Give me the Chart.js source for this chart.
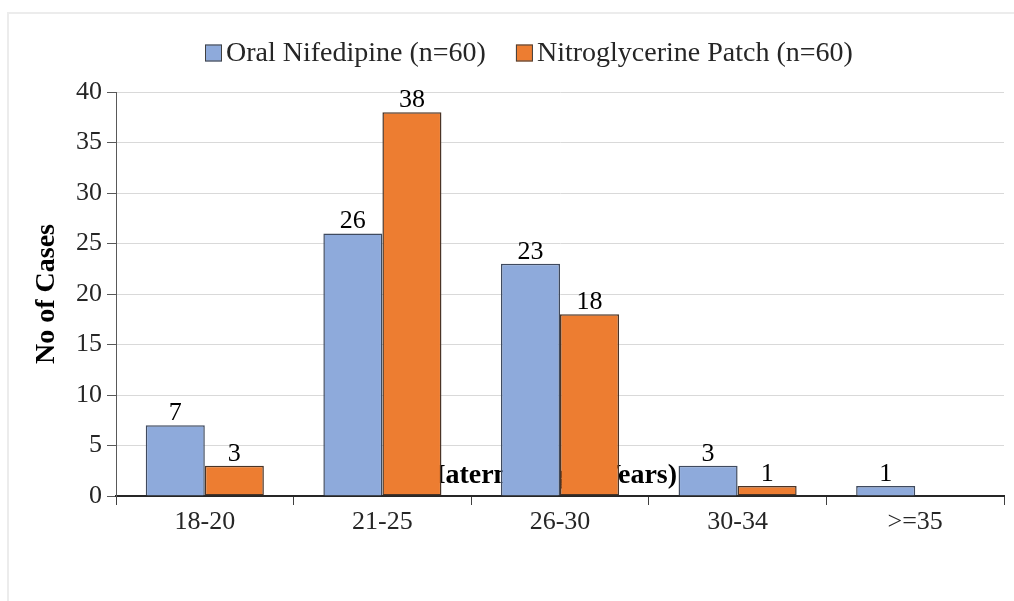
<!DOCTYPE html>
<html>
<head>
<meta charset="utf-8">
<script src="https://cdn.jsdelivr.net/npm/chart.js@4.4.1/dist/chart.umd.min.js"></script>
<style>
  html, body { margin: 0; padding: 0; background: #ffffff; }
  #wrap { position: relative; width: 1014px; height: 601px; overflow: hidden; }
  #frame { position: absolute; left: 7px; top: 12px; right: -4px; bottom: -4px;
           border-top: 2px solid #ececec; border-left: 2px solid #ececec; }
  canvas { position: absolute; left: 0; top: 0; }
</style>
</head>
<body>
<div id="wrap">
  <div id="frame"></div>
  <canvas id="chart" width="1014" height="601"></canvas>
</div>
<script>
// Age groups and case counts per treatment arm
const ageGroups = ['18-20', '21-25', '26-30', '30-34', '>=35'];
const nifedipineCases = [7, 26, 23, 3, 1];
const nitroglycerineCases = [3, 38, 18, 1, 0];
const seriesNames = ['Oral Nifedipine (n=60)', 'Nitroglycerine Patch (n=60)'];
const seriesColors = ['#8eaadb', '#ed7d31'];
const yTicks = [0, 5, 10, 15, 20, 25, 30, 35, 40];
const xTitle = 'Maternal Age (Years)';
const yTitle = 'No of Cases';

const SERIF = '"Liberation Serif", "Times New Roman", serif';
const TEXT = '#262626';

// Horizontal axis title, painted before the bars so they sit over it
const xTitlePlugin = {
  id: 'xTitleBehind',
  beforeDatasetsDraw(chart) {
    const { ctx, chartArea } = chart;
    ctx.save();
    ctx.font = 'bold 28px ' + SERIF;
    ctx.fillStyle = '#000000';
    ctx.textAlign = 'center';
    ctx.textBaseline = 'middle';
    ctx.fillText(xTitle, chartArea.left + (chartArea.right - chartArea.left) * 0.4865, chartArea.bottom - 20);
    ctx.restore();
  }
};

// Value labels above each bar
const valueLabelPlugin = {
  id: 'valueLabels',
  afterDatasetsDraw(chart) {
    const { ctx } = chart;
    ctx.save();
    ctx.font = '26px ' + SERIF;
    ctx.fillStyle = '#000000';
    ctx.textAlign = 'center';
    ctx.textBaseline = 'alphabetic';
    chart.data.datasets.forEach((ds, di) => {
      const meta = chart.getDatasetMeta(di);
      meta.data.forEach((bar, i) => {
        const v = ds.data[i];
        if (!v) return;
        ctx.fillText(String(v), bar.x, bar.y - 5);
      });
    });
    ctx.restore();
  }
};

// Legend row across the top
const legendPlugin = {
  id: 'topLegend',
  afterDraw(chart) {
    const { ctx } = chart;
    ctx.save();
    ctx.font = '28px ' + SERIF;
    ctx.textBaseline = 'middle';
    ctx.textAlign = 'left';
    const box = 17, gap = 4, itemGap = 30;
    let x = 205;
    const y = 53;
    seriesNames.forEach((name, i) => {
      ctx.fillStyle = seriesColors[i];
      ctx.fillRect(x, y - box / 2, box, box);
      ctx.strokeStyle = '#404040';
      ctx.lineWidth = 1;
      ctx.strokeRect(x + 0.5, y - box / 2 + 0.5, box - 1, box - 1);
      ctx.fillStyle = TEXT;
      ctx.fillText(name, x + box + gap, y + 1);
      x += box + gap + ctx.measureText(name).width + itemGap;
    });
    ctx.restore();
  }
};

new Chart(document.getElementById('chart'), {
  type: 'bar',
  data: {
    labels: ageGroups,
    datasets: [
      { label: seriesNames[0], data: nifedipineCases, backgroundColor: seriesColors[0],
        borderColor: '#3f4a5e', borderWidth: 1.5, borderSkipped: 'bottom' },
      { label: seriesNames[1], data: nitroglycerineCases, backgroundColor: seriesColors[1],
        borderColor: '#4a3426', borderWidth: 1.5, borderSkipped: false }
    ]
  },
  options: {
    responsive: false,
    animation: false,
    layout: { padding: { left: 0, right: 10, top: 92, bottom: 65 } },
    datasets: { bar: { barPercentage: 1.0, categoryPercentage: 0.665 } },
    plugins: {
      legend: { display: false },
      tooltip: { enabled: false }
    },
    scales: {
      x: {
        offset: true,
        grid: {
          offset: true,
          drawOnChartArea: true,
          color: (c) => (c.index === ageGroups.length ? '#d9d9d9' : 'rgba(0,0,0,0)'),
          tickColor: '#404040',
          tickLength: 9,
          lineWidth: 1
        },
        border: { display: true, color: '#262626', width: 2 },
        ticks: { color: TEXT, font: { family: SERIF, size: 26 }, padding: 2, maxRotation: 0 },
        afterFit(scale) { scale.height = 40; }
      },
      y: {
        min: 0, max: 40,
        afterBuildTicks(scale) { scale.ticks = yTicks.map(v => ({ value: v })); },
        grid: { color: '#d9d9d9', tickColor: '#595959', tickLength: 9, lineWidth: 1 },
        border: { display: true, color: '#595959', width: 1 },
        ticks: { color: TEXT, font: { family: SERIF, size: 26 }, padding: 5 },
        title: { display: true, text: yTitle, color: '#000000',
                 font: { family: SERIF, size: 28, weight: 'bold' }, padding: { top: 30, bottom: 0 } },
        afterFit(scale) { scale.width = 116; }
      }
    }
  },
  plugins: [xTitlePlugin, valueLabelPlugin, legendPlugin]
});
</script>
</body>
</html>
